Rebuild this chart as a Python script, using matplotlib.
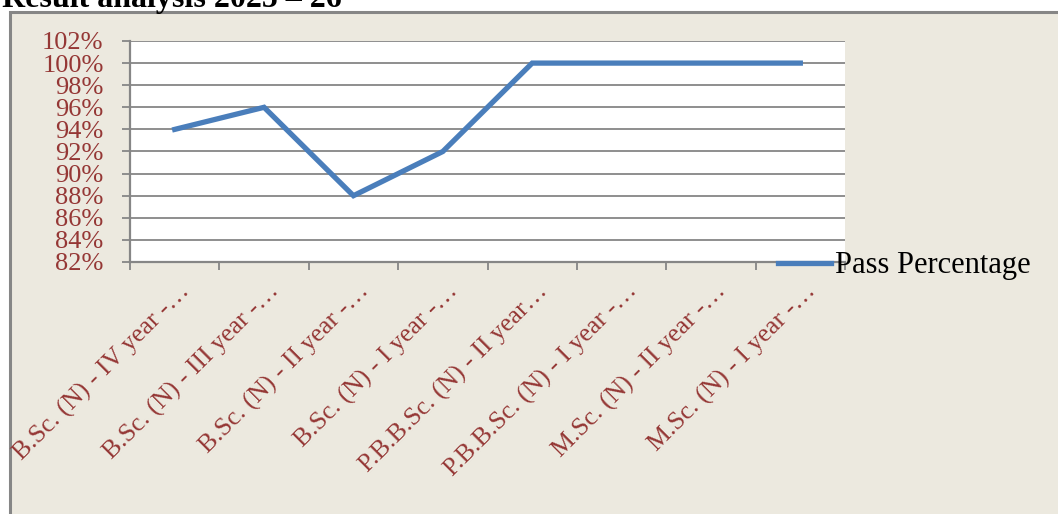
import numpy as np
import matplotlib; matplotlib.use("Agg")
import matplotlib.pyplot as plt
from matplotlib.patches import Rectangle
from matplotlib.transforms import ScaledTranslation, blended_transform_factory

# data
courses = ["B.Sc. (N) - IV year -…", "B.Sc. (N) - III year -…", "B.Sc. (N) - II year -…",
           "B.Sc. (N) - I year -…", "P.B.B.Sc. (N) - II year…", "P.B.B.Sc. (N) - I year -…",
           "M.Sc. (N) - II year -…", "M.Sc. (N) - I year -…"]
pass_pct = [0.94, 0.96, 0.88, 0.92, 1.00, 1.00, 1.00, 1.00]
yticks = np.arange(0.82, 1.0201, 0.02)

W, H = 1058, 514
RED = "#953735"; GREY = "#868686"; BLUE = "#4A7EBB"; BG = "#ECE9DF"
plt.rcParams["font.family"] = ["Liberation Serif", "DejaVu Serif"]

fig = plt.figure(figsize=(W / 100, H / 100), dpi=100)
fig.patch.set_facecolor("white")
# outer chart frame (bottom and right run off the picture)
fig.patches.append(Rectangle((10 / W, -20 / H), 1.2, (H - 12 + 20) / H, transform=fig.transFigure,
                             facecolor=BG, edgecolor=GREY, lw=2.2, zorder=-5))
fig.text(2 / W, 1 - 7 / H, "Result analysis 2025 – 26", fontsize=23, fontweight="bold", va="baseline", ha="left")

ax = fig.add_axes([130 / W, (H - 262) / H, 715 / W, 221 / H])
x = np.arange(len(courses))
ax.plot(x, pass_pct, color=BLUE, lw=3.8, solid_joinstyle="miter", label="Pass Percentage", zorder=3)
ax.set_xlim(-0.5, len(courses) - 0.5)
ax.set_ylim(yticks[0], yticks[-1])
ax.set_yticks(yticks)
ax.set_yticklabels([f"{round(v * 100)}%" for v in yticks], color=RED, fontsize=19)
ax.grid(axis="y", color=GREY, lw=1.3)
ax.set_axisbelow(True)
ax.set_xticks(np.arange(len(courses) + 1) - 0.5)
ax.set_xticklabels([])
ax.tick_params(axis="both", direction="out", length=6, width=1.3, color=GREY)
ax.tick_params(axis="y", pad=13)
for s in ["top", "right"]:
    ax.spines[s].set_visible(False)
for s in ["left", "bottom"]:
    ax.spines[s].set_color(GREY); ax.spines[s].set_linewidth(1.6)

# rotated category labels, ending just below-right of each category centre
off = ScaledTranslation(12 / 100, -26 / 100, fig.dpi_scale_trans)
tr = blended_transform_factory(ax.transData, ax.transAxes) + off
for xi, lab in zip(x, courses):
    ax.text(xi, 0, lab, transform=tr, rotation=45, rotation_mode="anchor", ha="right", va="center",
            color=RED, fontsize=18.5, clip_on=False)

fig.legend(loc="center left", bbox_to_anchor=(778 / W, (H - 266) / H), frameon=False, fontsize=22,
           handlelength=1.75, handletextpad=0.1, borderpad=0, borderaxespad=0)
fig.savefig("out.png", dpi=100)
